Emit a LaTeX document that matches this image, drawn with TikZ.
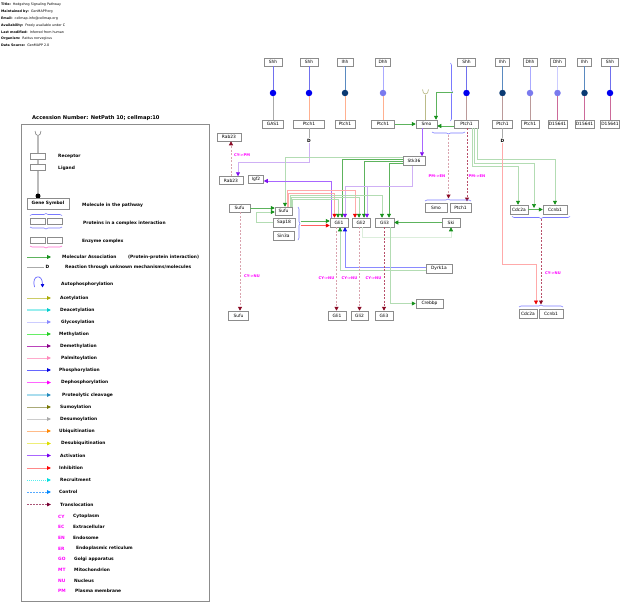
\documentclass[tikz,border=0pt]{standalone}
\usepackage{fontspec}
\setmainfont{DejaVu Sans}
\usetikzlibrary{arrows.meta,decorations.pathreplacing}
\definecolor{boxc}{HTML}{8C8C8C}
\definecolor{cGmed}{HTML}{5DB35D}
\definecolor{cGlt}{HTML}{B3DCB3}
\definecolor{cGvl}{HTML}{DCEEDC}
\definecolor{cGhead}{HTML}{16911B}
\definecolor{cRedL}{HTML}{FFAAAA}
\definecolor{cRedM}{HTML}{FF6060}
\definecolor{cRedH}{HTML}{EE0000}
\definecolor{cPur}{HTML}{A866FF}
\definecolor{cPurL}{HTML}{CFB0F5}
\definecolor{cPurH}{HTML}{8010F0}
\definecolor{cBlu}{HTML}{8A8AFF}
\definecolor{cBluH}{HTML}{1010EE}
\definecolor{cBrace}{HTML}{7A7AFF}
\definecolor{cPinkBr}{HTML}{FF66CC}
\definecolor{cTrL}{HTML}{D9A3AE}
\definecolor{cTrD}{HTML}{B8506A}
\definecolor{cTrH}{HTML}{8A0A25}
\definecolor{cMag}{HTML}{FF00FF}
\definecolor{dotS}{HTML}{0000F0}
\definecolor{dotI}{HTML}{0A3A73}
\definecolor{dotD}{HTML}{7A7AEE}
\definecolor{topS}{HTML}{7070EE}
\definecolor{topI}{HTML}{5A8AC0}
\definecolor{topD}{HTML}{AAAAFF}
\definecolor{topD2}{HTML}{CCCCFF}
\definecolor{botG}{HTML}{AAAAAA}
\definecolor{botP}{HTML}{FFB090}
\definecolor{botB}{HTML}{BB9A9A}
\definecolor{botM}{HTML}{CC6A9A}
\definecolor{cupc}{HTML}{BBBB88}
% legend colours
\definecolor{lAc}{HTML}{CCCC66}\definecolor{hAc}{HTML}{AAAA00}
\definecolor{lDa}{HTML}{99EEEE}\definecolor{hDa}{HTML}{00CCCC}
\definecolor{lGl}{HTML}{CCCCFF}\definecolor{hGl}{HTML}{8888FF}
\definecolor{lMe}{HTML}{66EE66}\definecolor{hMe}{HTML}{22CC22}
\definecolor{lDm}{HTML}{BB44BB}\definecolor{hDm}{HTML}{880088}
\definecolor{lPa}{HTML}{FFAACC}\definecolor{hPa}{HTML}{FF88BB}
\definecolor{lPh}{HTML}{6666FF}\definecolor{hPh}{HTML}{0000DD}
\definecolor{lDp}{HTML}{FF66FF}\definecolor{hDp}{HTML}{FF00FF}
\definecolor{lPc}{HTML}{AADDEE}\definecolor{hPc}{HTML}{2288BB}
\definecolor{lSu}{HTML}{AAAA77}\definecolor{hSu}{HTML}{777700}
\definecolor{lDs}{HTML}{CCCCCC}\definecolor{hDs}{HTML}{AAAAAA}
\definecolor{lUb}{HTML}{FFBB88}\definecolor{hUb}{HTML}{FF8800}
\definecolor{lDu}{HTML}{EEEE77}\definecolor{hDu}{HTML}{DDDD00}
\definecolor{lAt}{HTML}{AA66FF}\definecolor{hAt}{HTML}{7700EE}
\definecolor{lIn}{HTML}{FF8888}\definecolor{hIn}{HTML}{FF0000}
\definecolor{lRe}{HTML}{55EEEE}\definecolor{hRe}{HTML}{00DDDD}
\definecolor{lCo}{HTML}{55AAFF}\definecolor{hCo}{HTML}{0088FF}
\definecolor{lTr}{HTML}{AA5577}\definecolor{hTr}{HTML}{770033}

\tikzset{
  gb/.style={draw=boxc, fill=white, line width=0.5pt, inner sep=0pt,
     minimum height=8pt, font=\fontsize{4.4}{5}\selectfont},
  hd/.style={-{Triangle[length=4pt,width=4pt,color=#1]}},
  cn/.style={line width=0.7pt},
  gmed/.style={cn, draw=cGmed, hd=cGhead},
  glt/.style={cn, draw=cGlt, hd=cGhead},
  tr/.style={line width=1pt, draw=#1, dash pattern=on 2.2pt off 1.3pt, hd=cTrH},
  brc/.style={draw=cBrace, line width=0.6pt, decorate, decoration={brace, amplitude=2pt}},
  dotn/.style={circle, inner sep=0pt, minimum size=6.5pt, draw=none},
  dn/.style={inner sep=0.8pt, font=\bfseries\fontsize{4.4}{5}\selectfont},
  ml/.style={inner sep=0pt, text=cMag, font=\bfseries\fontsize{3.7}{4}\selectfont},
  tt/.style={anchor=west, inner sep=0pt, font=\fontsize{3.3}{4}\selectfont},
  lg/.style={anchor=west, inner sep=0pt, font=\bfseries\fontsize{4.4}{5}\selectfont},
  lgb/.style={draw=boxc, fill=white, line width=0.5pt, inner sep=0pt, minimum height=6pt, minimum width=15.5pt},
}

\begin{document}
\begin{tikzpicture}[x=1pt,y=-1pt]
\useasboundingbox (0,0) rectangle (626,608);
\fill[white] (0,0) rectangle (626,608);

% ---------- title block ----------
\node[tt] (t1) at (1,4.7) {\textbf{Title:}\hspace{2pt}Hedgehog Signaling Pathway};
\node[tt] (t2) at (1,11.5) {\textbf{Maintained by:}\hspace{2pt}GenMAPP.org};
\node[tt] (t3) at (1,18.3) {\textbf{Email:}\hspace{2pt}cellmap-info@cellmap.org};
\node[tt] (t4) at (1,25.2) {\textbf{Availability:}\hspace{2pt}Freely available under C};
\node[tt] (t5) at (1,32) {\textbf{Last modified:}\hspace{2pt}Inferred from human};
\node[tt] (t6) at (1,38.8) {\textbf{Organism:}\hspace{2pt}Rattus norvegicus};
\node[tt] (t7) at (1,45.7) {\textbf{Data Source:}\hspace{2pt}GenMAPP 2.0};

\node[anchor=west, inner sep=0pt, font=\bfseries\fontsize{5.2}{6}\selectfont] (acc) at (32,118) {Accession Number: NetPath 10; cellmap:10};

% ---------- legend ----------
\draw[draw=boxc, line width=0.6pt] (21.5,124.5) rectangle (209,601.5);
\draw[line width=0.6pt, draw=gray] (35,131) .. controls (35,137) and (41,137) .. (41,131);
\draw[line width=1.2pt, draw=botG!80] (38,136) -- (38,196);
\node[lgb] (lrec) at (37.5,156) {};
\node[lg] (lrect) at (58,156) {Receptor};
\node[lgb] (llig) at (37.5,167.5) {};
\node[lg] (lligt) at (58,168) {Ligand};
\node[circle, fill=black, inner sep=0pt, minimum size=5pt] (ldot) at (38,196) {};
\node[draw=boxc, fill=white, line width=0.6pt, inner sep=0pt, minimum width=42pt, minimum height=11pt,
      font=\bfseries\fontsize{4.4}{5}\selectfont] (lgene) at (48,203.5) {Gene Symbol};
\node[lg] (lgenet) at (82,205) {Molecule in the pathway};
\node[lgb] (lc1) at (37.5,221) {};
\node[lgb] (lc2) at (54.5,221) {};
\draw[brc] (30,215.5) -- (62,215.5);
\draw[brc] (62,227) -- (30,227);
\node[lg] (lct) at (83,223) {Proteins in a complex interaction};
\node[lgb] (le1) at (37.5,240) {};
\node[lgb] (le2) at (54.5,240) {};
\draw[brc, draw=cPinkBr] (62,246) -- (30,246);
\node[lg] (let) at (82,241) {Enzyme complex};

\draw[line width=0.8pt, draw=cGmed, hd=cGhead] (27,257) -- (51,257);
\node[lg] (lma) at (62,257) {Molecular Association};
\node[lg] (lpp) at (128,257) {(Protein-protein interaction)};
\draw[line width=0.8pt, draw=botG] (27,267) -- (44,267);
\node[dn] (lD) at (47.5,267) {D};
\node[lg] (lun) at (65,267) {Reaction through unknown mechanisms/molecules};
\draw[line width=0.7pt, draw=lPh, -{Triangle[length=3.5pt,width=3.5pt,color=hPh]}] (34.5,287) .. controls (31,275) and (42.5,273) .. (42.5,287.5);
\node[lg] (lap) at (61,284) {Autophosphorylation};

\foreach \yy/\lc/\hc/\lw/\lx/\txt [count=\i] in {
298/lAc/hAc/0.8pt/60/Acetylation,
310/lDa/hDa/1.6pt/60/Deacetylation,
322/lGl/hGl/0.8pt/61/Glycosylation,
334/lMe/hMe/0.8pt/59/Methylation,
346/lDm/hDm/0.8pt/60/Demethylation,
358/lPa/hPa/0.8pt/61/Palmitoylation,
370/lPh/hPh/0.8pt/59/Phosphorylation,
382.5/lDp/hDp/0.8pt/61/Dephosphorylation,
395/lPc/hPc/1.6pt/62/Proteolytic cleavage,
407/lSu/hSu/0.8pt/60/Sumoylation,
419/lDs/hDs/0.8pt/60/Desumoylation,
431/lUb/hUb/0.8pt/59/Ubiquitination,
443.5/lDu/hDu/0.8pt/61/Desubiquitination,
455.5/lAt/hAt/0.8pt/60/Activation,
468/lIn/hIn/0.8pt/59/Inhibition}
{
  \draw[line width=\lw, draw=\lc, -{Triangle[length=4pt,width=3.6pt,color=\hc]}] (27,\yy) -- (51,\yy);
  \node[lg] (lrow\i) at (\lx,\yy) {\txt};
}
\draw[line width=0.9pt, draw=lRe, dash pattern=on 1pt off 1pt, -{Triangle[length=4pt,width=3.6pt,color=hRe]}] (27,480) -- (51,480);
\node[lg] (lre) at (60,480) {Recruitment};
\draw[line width=0.8pt, draw=lCo, dash pattern=on 2pt off 1pt, -{Triangle[length=4pt,width=3.6pt,color=hCo]}] (27,492) -- (51,492);
\node[lg] (lco) at (59,492) {Control};
\draw[line width=0.8pt, draw=lTr, dash pattern=on 2pt off 1pt, -{Triangle[length=4pt,width=3.6pt,color=hTr]}] (27,504.5) -- (51,504.5);
\node[lg] (ltr) at (60,504.5) {Translocation};

\foreach \yy/\ab/\txt/\lx [count=\i] in {
516.5/CY/Cytoplasm/73, 527/EC/Extracellular/73, 537.5/EN/Endosome/73,
548.5/ER/Endoplasmic reticulum/76, 559/GO/Golgi apparatus/74,
569.5/MT/Mitochondrion/74, 580.5/NU/Nucleus/74, 591/PM/Plasma membrane/75}
{
  \node[lg, text=cMag] (lab\i) at (58,\yy) {\ab};
  \node[lg] (labt\i) at (\lx,\yy) {\txt};
}

% ---------- ligands, dots, receptors ----------
\foreach \i/\x/\lt/\lw/\dc/\tc/\rt/\rw/\bc in {
1/273/Shh/18/dotS/topS/GAS1/21/botG,
2/309/Shh/18/dotS/topS/Ptch1/31/botP,
3/345/Ihh/16/dotI/topI/Ptch1/20/botP,
4/383/Dhh/15/dotD/topD/Ptch1/23/botP,
5/466.5/Shh/18/dotS/topS/Ptch1/24/botB,
6/502.5/Ihh/14/dotI/topI/Ptch1/20/botB,
7/530/Dhh/14/dotD/topD/Ptch1/18/botB,
8/557.5/Dhh/15/dotD/topD2/D15641/19/botM,
9/584.5/Ihh/14/dotI/topI/D15641/19/botM,
10/610/Shh/17/dotS/topS/D15641/19/botM}
{
  \node[gb, minimum width=\lw pt] (lig\i) at (\x,62) {\lt};
  \node[dotn, fill=\dc] (dot\i) at (\x,93) {};
  \node[gb, minimum width=\rw pt] (rec\i) at (\x,124) {\rt};
  \draw[line width=0.8pt, draw=\tc] (lig\i) -- (dot\i);
  \draw[line width=0.8pt, draw=\bc] (dot\i) -- (rec\i);
}

% ---------- other nodes ----------
\node[gb, minimum width=21pt] (smo) at (426.5,124) {Smo};
\node[dn] (dA) at (309,140.5) {D};
\node[dn] (dB) at (502.5,140.5) {D};
\node[gb, minimum width=24pt] (rab23a) at (229,137) {Rab23};
\node[gb, minimum width=24pt] (rab23b) at (231,180.5) {Rab23};
\node[gb, minimum width=15pt] (igf2) at (256,179.5) {Igf2};
\node[gb, minimum width=22pt, minimum height=9pt] (stk) at (414,161) {Stk36};
\node[gb, minimum width=22pt, minimum height=9pt] (smo2) at (436,207.5) {Smo};
\node[gb, minimum width=21pt, minimum height=9pt] (ptb) at (460.5,207.5) {Ptch1};
\node[gb, minimum width=18pt, minimum height=9pt] (cdc2a) at (519,209.5) {Cdc2a};
\node[gb, minimum width=24pt, minimum height=9pt] (ccnb1) at (555,209.5) {Ccnb1};
\node[gb, minimum width=21pt] (sufu1) at (239.5,208) {Sufu};
\node[gb, minimum width=17pt] (sufu2) at (283.5,211) {Sufu};
\node[gb, minimum width=22pt, minimum height=9pt] (sap18) at (284,222.5) {Sap18};
\node[gb, minimum width=21pt, minimum height=9pt] (sin3a) at (283.5,235.5) {Sin3a};
\node[gb, minimum width=18pt, minimum height=9pt] (gli1) at (339,222.5) {Gli1};
\node[gb, minimum width=18pt, minimum height=9pt] (gli2) at (361,222.5) {Gli2};
\node[gb, minimum width=19pt, minimum height=9pt] (gli3) at (384.5,222.5) {Gli3};
\node[gb, minimum width=18pt, minimum height=9pt] (ski) at (451,222.5) {Ski};
\node[gb, minimum width=26pt, minimum height=9pt] (dyrk) at (439,268.5) {Dyrk1a};
\node[gb, minimum width=27pt, minimum height=9pt] (crebbp) at (429.5,303.5) {Crebbp};
\node[gb, minimum width=20pt, minimum height=9pt] (sufu3) at (238.5,315.5) {Sufu};
\node[gb, minimum width=18pt, minimum height=9pt] (gli1b) at (337,315.5) {Gli1};
\node[gb, minimum width=17pt, minimum height=9pt] (gli2b) at (359.5,315.5) {Gli2};
\node[gb, minimum width=18pt, minimum height=9pt] (gli3b) at (384,315.5) {Gli3};
\node[gb, minimum width=18pt, minimum height=9pt] (cdc2b) at (528,313.5) {Cdc2a};
\node[gb, minimum width=24pt, minimum height=9pt] (ccnb2) at (551,313.5) {Ccnb1};

% helper coordinates
\coordinate (kA) at (309,162);
\coordinate (cupb) at (425.5,95);
\coordinate (vbr) at (452.5,92);
\coordinate (bbA) at (448.5,134.5);
\coordinate (bbB) at (448.5,198.5);
\coordinate (p5s) at ([xshift=0.5pt]rec5.south);
\coordinate (p5e) at (467,201.5);
\coordinate (ccA) at (534,208);
\coordinate (cbA) at (541,219);
\coordinate (cbB) at (541,304.5);
\coordinate (redE) at (536,304.5);
\coordinate (smoS) at ([xshift=-4.5pt]smo.south);
\coordinate (stP) at ([xshift=-2pt]stk.south);
\coordinate (stB) at (367,186);
\coordinate (sapB) at (300.5,222.5);
\coordinate (g1d) at ([xshift=-2.5pt]gli1.south);
\coordinate (g2d) at ([xshift=-1.5pt]gli2.south);
\coordinate (g3d) at ([xshift=-0.5pt]gli3.south);
\coordinate (s1d) at ([xshift=0.5pt]sufu1.south);

% ---------- connectors ----------
\draw[line width=0.7pt, draw=botG] (rec2) -- (dA);
\draw[line width=0.7pt, draw=botG] (rec6) -- (dB);
\draw[cn, draw=cPurL, hd=cPurH] (dA) -- (kA) -| ([xshift=7pt]rab23b.north);
\draw[tr=cTrL] (rab23b.north) -- (rab23b.north |- rab23a.south);
\node[ml] (lbA) at (242,155) {CY->PM};

\draw[gmed] (rec4.east) -- (smo.west);
\draw[line width=0.7pt, draw=cupc] (422.5,89.5) .. controls (422.5,95.5) and (428.5,95.5) .. (428.5,89.5);
\draw[line width=0.8pt, draw=cupc] (cupb) -- (cupb |- smo.north);
\draw[brc] (450.5,63) -- (450.5,121);
\draw[gmed] (vbr) -| ([xshift=9.5pt]smo.north);
\draw[gmed] ([yshift=-2pt]rec5.west) -- ([yshift=-2pt]smo.east);
\draw[brc] (465,132) -- (432,132);
\draw[tr=cTrL] (bbA) -- (bbB);
\draw[tr=cTrD] (p5s) -- (p5e);
\node[ml] (lbB) at (437,176) {PM->EN};
\node[ml] (lbC) at (477,176) {PM->EN};
\draw[brc] (425,201) -- (471,201);
\draw[cn, draw=cPur, hd=cPurH] (smoS) -- (smoS |- stk.north);

\draw[glt] ([xshift=10.5pt]rec5.south) -- ++(0,31) -| (ccnb1.north);
\draw[glt] ([xshift=8pt]rec5.south) -- ++(0,35) -| (ccA);
\draw[glt] ([xshift=5.5pt]rec5.south) -- ++(0,38) -| ([xshift=-1pt]cdc2a.north);
\draw[gmed] (cdc2a.east) -- (ccnb1.west);
\draw[brc] (570,216.5) -- (512,216.5);
\draw[tr=cTrD] (cbA) -- (cbB);
\node[ml] (lbD) at (553,273) {CY->NU};
\draw[brc] (519,307) -- (563,307);
\draw[cn, draw=cRedL, hd=cRedH] (dB) -- ++(0,123.5) -| (redE);

% Stk36 outputs
\draw[glt] ([yshift=3.5pt]stk.west) -| ([xshift=1.5pt]sufu2.north);
\draw[gmed] ([yshift=1.5pt]stk.west) -| ([xshift=3pt]gli1.north);
\draw[gmed] ([yshift=-0.5pt]stk.west) -| ([xshift=3pt]gli2.north);
\draw[gmed] ([yshift=-2.5pt]stk.west) -| ([xshift=4.5pt]gli3.north);
\draw[cn, draw=cPurL, hd=cPurH] (stP) -- ++(0,20.5) -| ([xshift=6pt]gli1.north);
\draw[cn, draw=cPurL, hd=cPurH] (stB) -- ([xshift=6pt]gli2.north);

% Gli1 -> Igf2
\draw[cn, draw=cPur, hd=cPurH] ([xshift=-7.5pt]gli1.north) |- ([yshift=-1.5pt]igf2.east);

% Sufu outputs
\draw[cn, draw=cRedL, hd=cRedH] ([xshift=3.5pt]sufu2.north) -- ++(0,-16) -| ([xshift=-6pt]gli2.north);
\draw[cn, draw=cRedL, hd=cRedH] ([xshift=5pt]sufu2.north) -- ++(0,-13.5) -| ([xshift=-4.5pt]gli1.north);
\draw[glt] ([xshift=6.5pt]sufu2.north) -- ++(0,-11) -| ([xshift=-2.5pt]gli3.north);
\draw[glt] ([xshift=7.5pt]sufu2.north) -- ++(0,-9) -| ([xshift=-2pt]gli2.north);
\draw[glt] ([xshift=8.5pt]sufu2.north) -- ++(0,-7) -| ([xshift=-1pt]gli1.north);

% Sufu complex
\draw[gmed] (sufu1.east) -- (sufu1.east -| sufu2.west);
\draw[glt] (sap18.west) -- ++(-16,0) |- ([yshift=-1pt]sufu2.west);
\draw[brc] (298,207) -- (298,240);
\draw[gmed] ([yshift=1.5pt]sapB) -- ([yshift=1.5pt]gli1.west);
\draw[cn, draw=cRedM, hd=cRedH] ([yshift=-3pt]sapB) -- ([yshift=-3pt]gli1.west);

% Dyrk1a, Ski, Crebbp
\draw[cn, draw=cBlu, hd=cBluH] ([yshift=1.5pt]dyrk.west) -| ([xshift=6pt]gli1.south);
\draw[glt] ([yshift=-2pt]dyrk.west) -| ([xshift=1pt]gli1.south);
\draw[cn, draw=cGvl, hd=cGhead] ([xshift=1.5pt]gli2.south) -- ++(0,10) -| (ski.south);
\draw[gmed] (ski.west) -- (gli3.east);
\draw[glt] ([xshift=5.5pt]gli3.south) |- (crebbp.west);

% translocations to nucleus
\draw[tr=cTrL] (s1d) -- (s1d |- sufu3.north);
\draw[tr=cTrL] (g1d) -- (g1d |- gli1b.north);
\draw[tr=cTrL] (g2d) -- (g2d |- gli2b.north);
\draw[tr=cTrD] (g3d) -- (g3d |- gli3b.north);
\node[ml] (lbE) at (252,276) {CY->NU};
\node[ml] (lbF) at (326.5,278) {CY->NU};
\node[ml] (lbG) at (349.5,278) {CY->NU};
\node[ml] (lbH) at (373.5,278) {CY->NU};
\end{tikzpicture}
\end{document}
